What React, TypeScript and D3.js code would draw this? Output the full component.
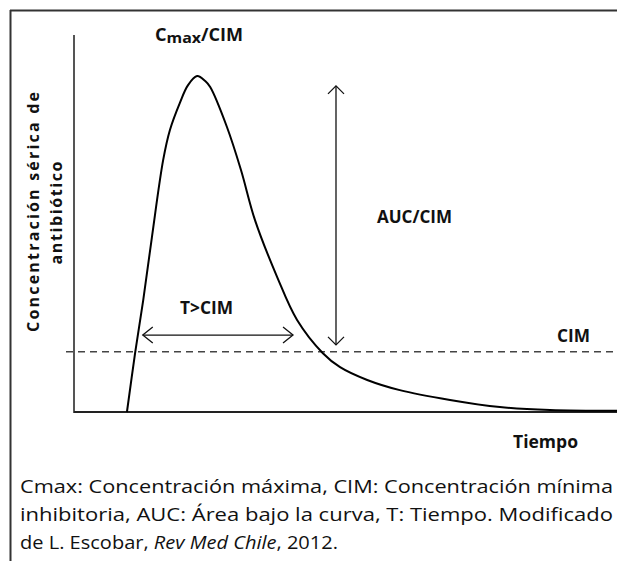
import React from 'react';
import * as d3 from 'd3';

// curve (time in h, concentration in arbitrary units)
const timeH = [1.17, 1.35, 1.53, 1.72, 1.97, 2.12, 2.34, 2.52, 2.72, 2.9, 3.01, 3.38, 3.69, 4.0, 4.49, 4.93, 5.5, 5.88, 6.48, 7.2, 8.31, 9.41, 10.52, 12.0];
const concentration = [0, 15.6, 29.7, 46.2, 66.8, 74.8, 82.0, 86.7, 89.1, 87.8, 86.2, 75.6, 64.2, 50.9, 35.8, 24.4, 15.6, 11.9, 8.5, 5.8, 3.2, 1.3, 0.5, 0.3];
const cimLevel = 16;

const captionLines = [
  'Cmax: Concentración máxima, CIM: Concentración mínima',
  'inhibitoria, AUC: Área bajo la curva, T: Tiempo. Modificado',
];

const W = 617;
const H = 561;
const font = '"Open Sans", "Noto Sans", sans-serif';

export default function App() {
  let x = d3.scaleLinear().domain([0, 12]).range([74, 617]);
  let y = d3.scaleLinear().domain([0, 100]).range([412, 35]);

  let line = d3
    .line<number>()
    .x((d, i) => x(timeH[i]))
    .y(d => y(d))
    .curve(d3.curveCatmullRom.alpha(0.5));

  // annotation anchors, in data units
  let aucX = 5.79;
  let aucTop = 86.5;
  let aucBottom = 17.8;
  let tY = 20.4;
  let tStart = 1.52;
  let tEnd = 4.84;

  let head = 8;

  return (
    <svg width={W} height={H} style={{ position: 'absolute', left: 0, top: 0 }}>
      <rect width={W} height={H} fill="#fff" />
      {/* frame */}
      <line x1={10} y1={10.5} x2={W} y2={10.5} stroke="#333" strokeWidth={2} />
      <line x1={10.5} y1={10} x2={10.5} y2={H} stroke="#333" strokeWidth={2} />

      {/* axes */}
      <line x1={x(0)} y1={35} x2={x(0)} y2={y(0) + 1} stroke="#555" strokeWidth={2} />
      <line x1={x(0)} y1={y(0)} x2={W} y2={y(0)} stroke="#222" strokeWidth={2} />

      {/* CIM line */}
      <line x1={x(0) - 8} y1={y(cimLevel)} x2={W} y2={y(cimLevel)} stroke="#444" strokeWidth={1.5} strokeDasharray="7,5" />

      {/* curve */}
      <path d={line(concentration) || ''} fill="none" stroke="#000" strokeWidth={2} />

      {/* AUC/CIM arrow */}
      <g stroke="#111" strokeWidth={1.3} fill="none">
        <line x1={x(aucX)} y1={y(aucTop)} x2={x(aucX)} y2={y(aucBottom)} />
        <polyline points={`${x(aucX) - head},${y(aucTop) + head} ${x(aucX)},${y(aucTop)} ${x(aucX) + head},${y(aucTop) + head}`} />
        <polyline points={`${x(aucX) - head},${y(aucBottom) - head} ${x(aucX)},${y(aucBottom)} ${x(aucX) + head},${y(aucBottom) - head}`} />
        {/* T>CIM arrow */}
        <line x1={x(tStart)} y1={y(tY)} x2={x(tEnd)} y2={y(tY)} />
        <polyline points={`${x(tStart) + 10},${y(tY) - head} ${x(tStart)},${y(tY)} ${x(tStart) + 10},${y(tY) + head}`} />
        <polyline points={`${x(tEnd) - 10},${y(tY) - head} ${x(tEnd)},${y(tY)} ${x(tEnd) - 10},${y(tY) + head}`} />
      </g>

      <g fontFamily={font} fontWeight={700} fill="#111" fontSize={17}>
        <text x={155} y={41} textLength={88} lengthAdjust="spacingAndGlyphs">
          C<tspan fontSize={15} dy={2}>max</tspan><tspan dy={-2}>/CIM</tspan>
        </text>
        <text x={377} y={223} textLength={75} lengthAdjust="spacingAndGlyphs">AUC/CIM</text>
        <text x={180} y={314} textLength={53} lengthAdjust="spacingAndGlyphs">T&gt;CIM</text>
        <text x={557} y={342} textLength={33} lengthAdjust="spacingAndGlyphs">CIM</text>
        <text x={513} y={448} textLength={65} lengthAdjust="spacingAndGlyphs">Tiempo</text>
        <text transform="translate(39,212) rotate(-90)" textAnchor="middle" fontSize={16} textLength={240} lengthAdjust="spacing">
          Concentración sérica de
        </text>
        <text transform="translate(62,213) rotate(-90)" textAnchor="middle" fontSize={16} textLength={103} lengthAdjust="spacing">
          antibiótico
        </text>
      </g>

      <g fontFamily={font} fill="#111" fontSize={19}>
        {captionLines.map((t, i) => (
          <text key={i} x={20} y={493 + i * 28} textLength={593} lengthAdjust="spacingAndGlyphs">{t}</text>
        ))}
        <text x={20} y={549} textLength={318} lengthAdjust="spacingAndGlyphs">
          de L. Escobar, <tspan fontStyle="italic">Rev Med Chile</tspan>, 2012.
        </text>
      </g>
    </svg>
  );
}
